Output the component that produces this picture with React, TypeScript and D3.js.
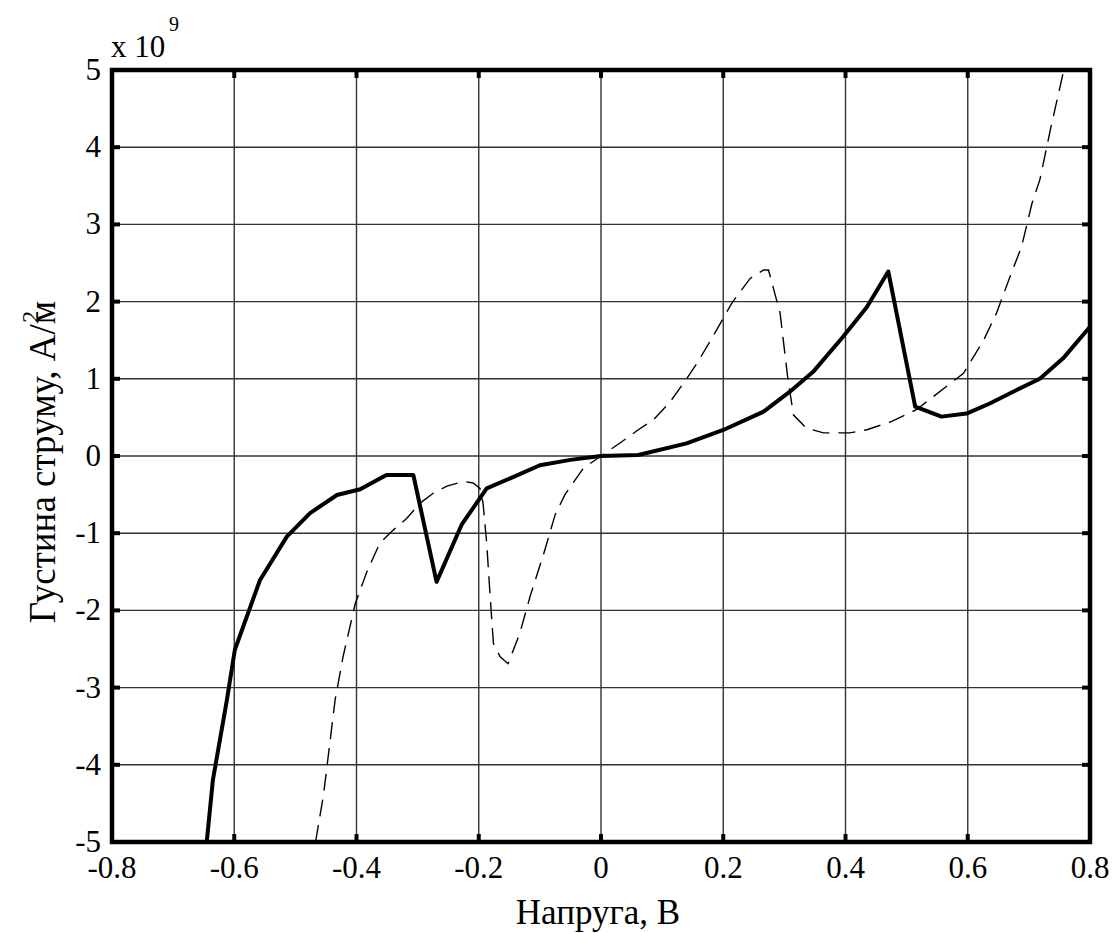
import React from "react";
import * as d3 from "d3";

const xTicks = [-0.8, -0.6, -0.4, -0.2, 0, 0.2, 0.4, 0.6, 0.8];
const xTickLabels = ["-0.8", "-0.6", "-0.4", "-0.2", "0", "0.2", "0.4", "0.6", "0.8"];
const yTicks = [-5, -4, -3, -2, -1, 0, 1, 2, 3, 4, 5];
const yTickLabels = ["-5", "-4", "-3", "-2", "-1", "0", "1", "2", "3", "4", "5"];

const solidX = [-0.645, -0.635, -0.612, -0.599, -0.558, -0.514, -0.476, -0.432, -0.394, -0.351, -0.307, -0.269, -0.228, -0.187, -0.143, -0.1, -0.05, 0, 0.061, 0.14, 0.2, 0.266, 0.309, 0.347, 0.396, 0.435, 0.47, 0.514, 0.557, 0.598, 0.636, 0.68, 0.718, 0.756, 0.8];
const solidY = [-5, -4.2, -3.16, -2.51, -1.61, -1.045, -0.74, -0.505, -0.43, -0.246, -0.246, -1.63, -0.89, -0.42, -0.27, -0.12, -0.05, 0, 0.013, 0.164, 0.337, 0.574, 0.833, 1.09, 1.545, 1.93, 2.39, 0.64, 0.51, 0.55, 0.68, 0.855, 1.0, 1.265, 1.675];

const dashX = [-0.467, -0.454, -0.435, -0.422, -0.402, -0.383, -0.362, -0.34, -0.318, -0.296, -0.274, -0.252, -0.225, -0.209, -0.198, -0.193, -0.187, -0.182, -0.176, -0.165, -0.152, -0.133, -0.116, -0.092, -0.075, -0.059, -0.029, 0, 0.034, 0.061, 0.086, 0.113, 0.14, 0.157, 0.181, 0.214, 0.244, 0.266, 0.274, 0.293, 0.306, 0.315, 0.336, 0.364, 0.407, 0.435, 0.473, 0.516, 0.565, 0.593, 0.626, 0.647, 0.669, 0.688, 0.705, 0.718, 0.735, 0.756];
const dashY = [-5, -4.39, -3.16, -2.6, -1.91, -1.5, -1.13, -0.96, -0.81, -0.61, -0.48, -0.39, -0.33, -0.35, -0.42, -0.61, -1.13, -1.74, -2.43, -2.6, -2.69, -2.3, -1.82, -1.22, -0.76, -0.5, -0.16, 0, 0.185, 0.34, 0.47, 0.7, 1.0, 1.2, 1.52, 1.98, 2.3, 2.41, 2.41, 1.85, 0.98, 0.53, 0.36, 0.3, 0.3, 0.34, 0.44, 0.6, 0.9, 1.07, 1.5, 1.85, 2.32, 2.71, 3.27, 3.58, 4.22, 4.96];

const W = 1115;
const H = 933;
const L = 112, R = 1090, T = 70, B = 842;
const FONT = "'Liberation Serif', 'Times New Roman', serif";

export default function App() {
  const x = d3.scaleLinear().domain([-0.8, 0.8]).range([L, R]);
  const y = d3.scaleLinear().domain([-5, 5]).range([B, T]);
  const line = d3.line<[number, number]>().x(d => x(d[0])).y(d => y(d[1]));
  const solid = solidX.map((v, i) => [v, solidY[i]] as [number, number]);
  const dashed = dashX.map((v, i) => [v, dashY[i]] as [number, number]);

  return (
    <svg width={W} height={H} style={{ position: "absolute", left: 0, top: 0, background: "#fff" }} fontFamily={FONT}>
      <rect x={0} y={0} width={W} height={H} fill="#fff" />
      <defs>
        <clipPath id="plot">
          <rect x={L} y={T} width={R - L} height={B - T} />
        </clipPath>
      </defs>
      {/* grid */}
      {xTicks.map(t => (
        <line key={"gx" + t} x1={x(t)} x2={x(t)} y1={T} y2={B} stroke="#333" strokeWidth={1.4} />
      ))}
      {yTicks.map(t => (
        <line key={"gy" + t} x1={L} x2={R} y1={y(t)} y2={y(t)} stroke="#333" strokeWidth={1.4} />
      ))}
      {/* ticks */}
      {xTicks.map(t => (
        <g key={"tx" + t}>
          <line x1={x(t)} x2={x(t)} y1={B} y2={B - 8} stroke="#000" strokeWidth={4} />
          <line x1={x(t)} x2={x(t)} y1={T} y2={T + 8} stroke="#000" strokeWidth={4} />
        </g>
      ))}
      {yTicks.map(t => (
        <g key={"ty" + t}>
          <line x1={L} x2={L + 8} y1={y(t)} y2={y(t)} stroke="#000" strokeWidth={4} />
          <line x1={R} x2={R - 8} y1={y(t)} y2={y(t)} stroke="#000" strokeWidth={4} />
        </g>
      ))}
      {/* curves */}
      <g clipPath="url(#plot)">
        <path d={line(dashed) || ""} fill="none" stroke="#000" strokeWidth={1.4} strokeDasharray="17,9" />
        <path d={line(solid) || ""} fill="none" stroke="#000" strokeWidth={4} strokeLinejoin="round" />
      </g>
      {/* frame */}
      <rect x={L} y={T} width={R - L} height={B - T} fill="none" stroke="#000" strokeWidth={4.5} />
      {/* tick labels */}
      {xTicks.map((t, i) => (
        <text key={"lx" + t} x={x(t)} y={878} fontSize={31} textAnchor="middle" fill="#000">{xTickLabels[i]}</text>
      ))}
      {yTicks.map((t, i) => (
        <text key={"ly" + t} x={101} y={y(t) + 10} fontSize={31} textAnchor="end" fill="#000">{yTickLabels[i]}</text>
      ))}
      {/* exponent */}
      <text x={111} y={57} fontSize={31} fill="#000">x 10</text>
      <text x={169} y={31} fontSize={20} fill="#000">9</text>
      {/* axis labels */}
      <text x={598} y={924} fontSize={35} textAnchor="middle" fill="#000">Напруга, В</text>
      <g transform="translate(55,462) rotate(-90)">
        <text x={0} y={0} fontSize={37} textAnchor="middle" fill="#000">
          Густина струму, А/м<tspan dx={-22} dy={-17} fontSize={24}>2</tspan>
        </text>
      </g>
    </svg>
  );
}
